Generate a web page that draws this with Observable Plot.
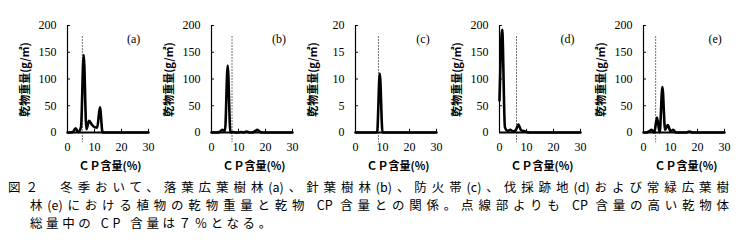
<!DOCTYPE html>
<html><head><meta charset="utf-8">
<script src="https://cdn.jsdelivr.net/npm/d3@7"></script>
<script src="https://cdn.jsdelivr.net/npm/@observablehq/plot@0.6"></script>
<style>
html,body{margin:0;padding:0;background:#fff;}
body{width:741px;height:250px;overflow:hidden;}
#charts{display:flex;padding-left:9px;height:175px;}
#charts svg{flex:none;overflow:visible;}
.cap{font-family:"Noto Sans CJK JP";font-size:12.5px;line-height:18.2px;color:#000;padding-top:3px;}
.cap div{white-space:nowrap;height:18.2px;}
.l1{margin-left:8px;width:721px;text-align:justify;text-align-last:justify;white-space:normal!important;}
.l2{margin-left:30px;width:699px;text-align:justify;text-align-last:justify;white-space:normal!important;}
.l3{margin-left:30px;letter-spacing:3.6px;}
</style></head>
<body>
<div id="charts"></div>
<div class="cap">
<div class="l1" id="c1"></div>
<div class="l2" id="c2"></div>
<div class="l3" id="c3"></div>
</div>
<script>
// CP content (%) categories
const cp = [0,1,2,3,4,5,6,7,8,9,10,11,12,13,14,15,16,17,18,19,20,21,22,23,24,25,26,27,28,29,30];
// dry matter weight (g/m2)
const massA = [0,0,1,8,1,10,145,6,22,15,10,9,47,0,0,0,0,0,0,0,0,0,0,0,0,0,0,0,0,0,0];
const massB = [0,0,0,1,5,3,125,0,1,0,0,1,0,2,0,0,2,5,1,0,0,0,0,0,0,0,0,0,0,0,0];
const massC = [0,0,0,0,0,0,0,0,0,11,0,0,0,0,0,0,0,0,0,0,0,0,0,0,0,0,0,0,0,0,0];
const massD = [60,192,10,3,5,2,4,15,4,3,1,0,0,0,0,0,0,0,0,0,0,0,0,0,0,0,0,0,0,0,0];
const massE = [0,0,2,5,0,28,0,85,5,14,2,5,0,0,0,0,0,2,0,0,0,0,0,0,0,0,0,0,0,0,0];
const panelLabels = ["(a)","(b)","(c)","(d)","(e)"];
const cutoffs = [5.5, 7.6, 8.5, 6.3, 4.5];
const yMaxes = [200, 200, 20, 200, 200];
const yTicks200 = [0,50,100,150,200];
const yTicks20 = [0,5,10,15,20];
const xTicks = [0,10,20,30];
const yTitle = "乾物重量(g/㎡)";
const xTitle = "ＣＰ含量(%)";
const captionLines = [
  "図２　冬季おいて、落葉広葉樹林(a)、針葉樹林(b)、防火帯(c)、伐採跡地(d)および常緑広葉樹",
  "林(e)における植物の乾物重量と乾物 CP 含量との関係。点線部よりも CP 含量の高い乾物体",
  "総量中の CP 含量は７％となる。"
];

const series = [massA, massB, massC, massD, massE];
const labelXs = [24.5, 25, 25, 25.2, 26.5];

function panel(i) {
  const ymax = yMaxes[i];
  const k = ymax / 200;
  const yt = ymax === 20 ? yTicks20 : yTicks200;
  const data = cp.map((x, j) => ({x, y: series[i][j]}));
  return Plot.plot({
    width: 144, height: 175,
    marginLeft: 58, marginRight: 5, marginTop: 25, marginBottom: 43,
    x: {domain: [0, 30], ticks: xTicks, tickSize: 0, tickPadding: 10, label: null},
    y: {domain: [0, ymax], ticks: yt, tickSize: 0, tickPadding: 11, label: null},
    style: {fontFamily: "Liberation Serif", fontSize: "12px", color: "#000", background: "transparent", overflow: "visible"},
    marks: [
      Plot.ruleX([cutoffs[i]], {y1: 179 * k, y2: -19 * k, stroke: "#444", strokeWidth: 1, strokeDasharray: "1.5,1.5"}),
      Plot.ruleY(yt, {x1: 0, x2: 1.1, stroke: "#000"}),
      Plot.ruleX(xTicks, {y1: 0, y2: 6 * k, stroke: "#000"}),
      Plot.ruleX([0], {stroke: "#000", strokeWidth: 1.2}),
      Plot.ruleY([0], {stroke: "#000", strokeWidth: 2}),
      Plot.line(data, {x: "x", y: "y", stroke: "#000", strokeWidth: 2.6, curve: "monotone-x"}),
      Plot.text([panelLabels[i]], {x: labelXs[i], y: 174 * k, fontFamily: "Liberation Serif", fontSize: 12, fill: "#000"}),
      Plot.text([yTitle], {x: 0, y: 99 * k, rotate: -90, dx: -42, fontFamily: "Noto Sans CJK JP", fontWeight: "bold", fontSize: 11, fill: "#000"}),
      Plot.text([xTitle], {x: 15, y: 0, dy: 34, dx: 2, fontFamily: "Noto Sans CJK JP", fontWeight: "bold", fontSize: 11, fill: "#000"})
    ]
  });
}

const host = document.getElementById("charts");
for (let i = 0; i < 5; i++) host.appendChild(panel(i));
document.getElementById("c1").textContent = captionLines[0];
document.getElementById("c2").textContent = captionLines[1];
document.getElementById("c3").textContent = captionLines[2];
</script>
</body></html>
